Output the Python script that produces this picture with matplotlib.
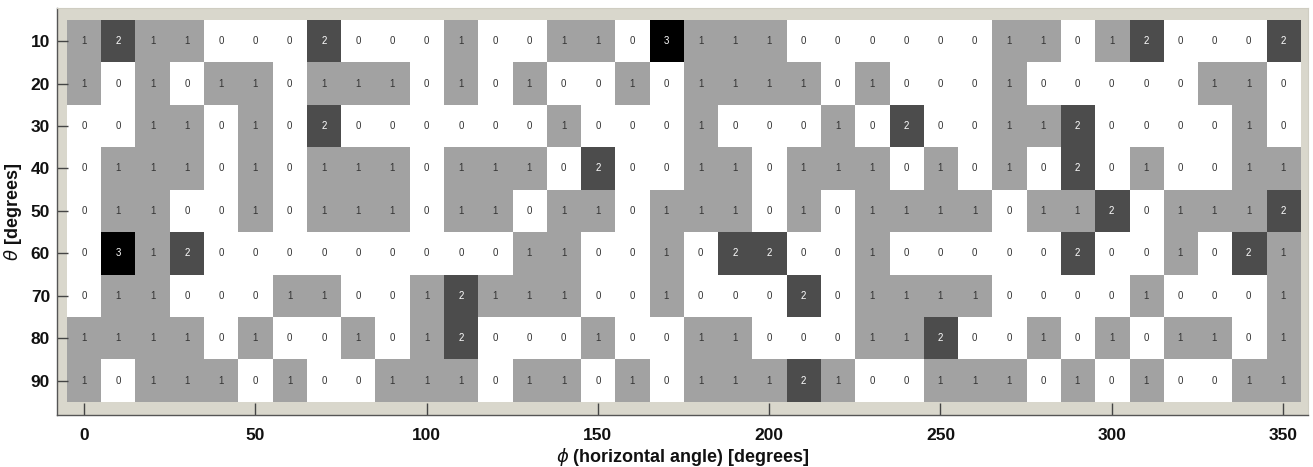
import numpy as np
import matplotlib
matplotlib.use("Agg")
import matplotlib.pyplot as plt
from matplotlib.colors import ListedColormap, BoundaryNorm

plt.rcParams['font.family'] = ['Liberation Sans', 'DejaVu Sans']
plt.rcParams['mathtext.fontset'] = 'dejavusans'

# horizontal angle (columns) and polar angle (rows)
phi = list(range(0, 360, 10))
theta = [10, 20, 30, 40, 50, 60, 70, 80, 90]

row_10 = [1,2,1,1,0,0,0,2,0,0,0,1,0,0,1,1,0,3, 1,1,1,0,0,0,0,0,0,1,1,0,1,2,0,0,0,2]
row_20 = [1,0,1,0,1,1,0,1,1,1,0,1,0,1,0,0,1,0, 1,1,1,1,0,1,0,0,0,1,0,0,0,0,0,1,1,0]
row_30 = [0,0,1,1,0,1,0,2,0,0,0,0,0,0,1,0,0,0, 1,0,0,0,1,0,2,0,0,1,1,2,0,0,0,0,1,0]
row_40 = [0,1,1,1,0,1,0,1,1,1,0,1,1,1,0,2,0,0, 1,1,0,1,1,1,0,1,0,1,0,2,0,1,0,0,1,1]
row_50 = [0,1,1,0,0,1,0,1,1,1,0,1,1,0,1,1,0,1, 1,1,0,1,0,1,1,1,1,0,1,1,2,0,1,1,1,2]
row_60 = [0,3,1,2,0,0,0,0,0,0,0,0,0,1,1,0,0,1, 0,2,2,0,0,1,0,0,0,0,0,2,0,0,1,0,2,1]
row_70 = [0,1,1,0,0,0,1,1,0,0,1,2,1,1,1,0,0,1, 0,0,0,2,0,1,1,1,1,0,0,0,0,1,0,0,0,1]
row_80 = [1,1,1,1,0,1,0,0,1,0,1,2,0,0,0,1,0,0, 1,1,0,0,0,1,1,2,0,0,1,0,1,0,1,1,0,1]
row_90 = [1,0,1,1,1,0,1,0,0,1,1,1,0,1,1,0,1,0, 1,1,1,2,1,0,0,1,1,1,0,1,0,1,0,0,1,1]

counts = np.array([row_10, row_20, row_30, row_40, row_50,
                   row_60, row_70, row_80, row_90])

x_ticks = [0, 50, 100, 150, 200, 250, 300, 350]
y_ticks = theta

cell_colors = ['#ffffff', '#a2a2a2', '#4c4c4c', '#000000']
cmap = ListedColormap(cell_colors)
norm = BoundaryNorm([-0.5, 0.5, 1.5, 2.5, 3.5], cmap.N)

fig = plt.figure(figsize=(13.13, 4.67), dpi=100)
fig.patch.set_facecolor('white')
ax = fig.add_axes([0.0434, 0.1113, 0.9528, 0.8715])
ax.set_facecolor('#d9d7cc')

step_x = phi[1] - phi[0]
step_y = theta[1] - theta[0]
ax.imshow(counts, cmap=cmap, norm=norm, interpolation='nearest', aspect='auto',
          extent=[phi[0] - step_x / 2, phi[-1] + step_x / 2,
                  theta[-1] + step_y / 2, theta[0] - step_y / 2], zorder=1)

for i, t in enumerate(theta):
    for j, p in enumerate(phi):
        v = counts[i, j]
        ax.text(p, t, str(v), ha='center', va='center', fontsize=7,
                color='white' if v >= 2 else '#333333', zorder=3)

ax.set_xlim(-7.9, 357.3)
ax.set_ylim(98.1, 2.2)
ax.set_xticks(x_ticks)
ax.set_yticks(y_ticks)
ax.tick_params(axis='both', direction='in', labelsize=12.5, colors='#444444',
               labelcolor='#111111')
ax.tick_params(axis='x', length=9, pad=9, width=1)
ax.tick_params(axis='y', length=8, pad=5, width=1)
ax.tick_params(top=False, right=False)
for lbl in ax.get_xticklabels() + ax.get_yticklabels():
    lbl.set_fontweight('bold')

for s in ['bottom', 'left']:
    ax.spines[s].set_color('#555555')
    ax.spines[s].set_linewidth(1.0)
for s in ['top', 'right']:
    ax.spines[s].set_color('#cfcdc2')

ax.set_xlabel(r'$\phi$ (horizontal angle) [degrees]', fontsize=13, fontweight='bold',
              color='#111111')
ax.set_ylabel(r'$\theta$ [degrees]', fontsize=13, fontweight='bold', color='#111111')
ax.xaxis.set_label_coords(0.5, -0.075)
ax.yaxis.set_label_coords(-0.026, 0.5)

fig.savefig('out.png', dpi=100, facecolor='white')
